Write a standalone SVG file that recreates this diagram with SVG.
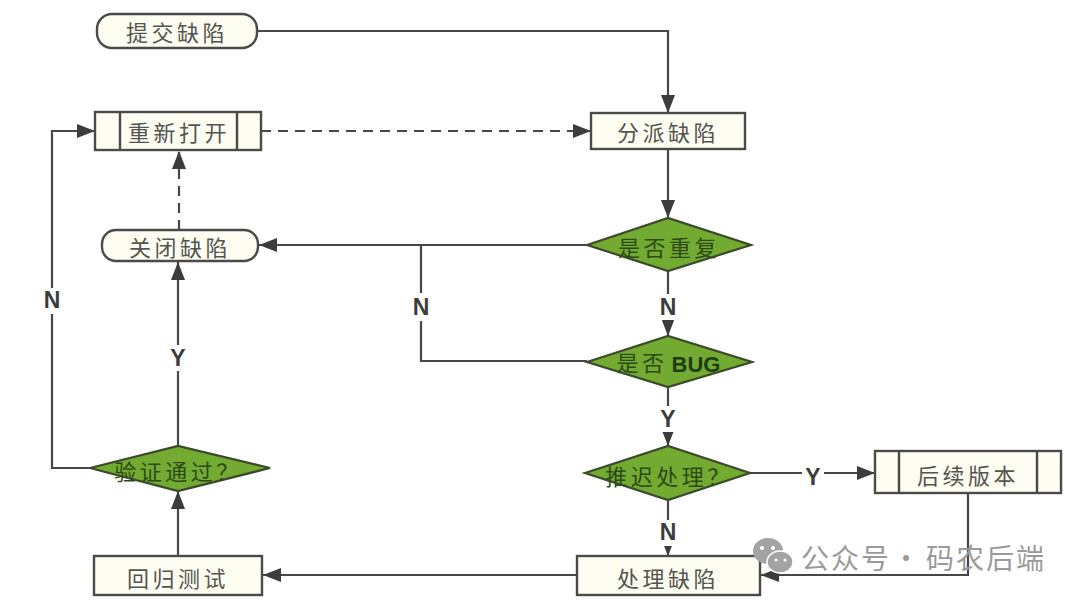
<svg xmlns="http://www.w3.org/2000/svg" width="1080" height="602" viewBox="0 0 1080 602">
<style>
.box{fill:#fdfdf2;stroke:#4a4a48;stroke-width:2.4}
.dia{fill:#72aa32;stroke:#3a4a2a;stroke-width:2.2}
.c{fill:none;stroke:#474747;stroke-width:2.2}
.d{stroke-dasharray:10 7}
.t{font-family:"Noto Sans CJK SC","Liberation Serif",serif;font-size:22px;fill:#555550;text-anchor:middle;letter-spacing:3.5px;font-weight:400}
.td{font-family:"Noto Sans CJK SC","Liberation Serif",serif;font-size:22px;fill:#2d4a16;text-anchor:middle;letter-spacing:3.5px}
.l{font-family:"Liberation Sans",Arial,sans-serif;font-size:23px;font-weight:700;fill:#3c3c3c;text-anchor:middle}
.b{font-family:"Liberation Sans",Arial,sans-serif;font-size:22px;font-weight:700;fill:#1f3d10;text-anchor:middle}
.w{font-family:"Noto Sans CJK SC","Liberation Sans",sans-serif;font-size:28px;fill:#9a9a9a;letter-spacing:2px}
</style>
<defs>
<marker id="a" markerUnits="userSpaceOnUse" markerWidth="20" markerHeight="16" refX="18" refY="8" orient="auto"><path d="M0 1L18 8L0 15Z" fill="#3c3c3c"/></marker>
</defs>
<rect width="1080" height="602" fill="#fff"/>
<g id="connectors">
<path class="c" marker-end="url(#a)" d="M257 31H668V113"/>
<path class="c d" marker-end="url(#a)" d="M261 131H591"/>
<path class="c d" marker-end="url(#a)" d="M179 230V151"/>
<path class="c" marker-end="url(#a)" d="M668 149V218"/>
<path class="c" marker-end="url(#a)" d="M587 245H259"/>
<path class="c" d="M587 361H421V245"/>
<path class="c" marker-end="url(#a)" d="M668 271V336"/>
<path class="c" marker-end="url(#a)" d="M668 387V446"/>
<path class="c" marker-end="url(#a)" d="M750 473H875"/>
<path class="c" marker-end="url(#a)" d="M668 500V556"/>
<path class="c" marker-end="url(#a)" d="M968 493V575H761"/>
<path class="c" marker-end="url(#a)" d="M577 575H263"/>
<path class="c" marker-end="url(#a)" d="M178 556V491"/>
<path class="c" marker-end="url(#a)" d="M178 446V262"/>
<path class="c" marker-end="url(#a)" d="M90 468H52V131H95"/>
</g>
<g id="labels">
<rect x="410" y="293" width="22" height="28" fill="#fff"/><text class="l" x="421" y="315">N</text>
<rect x="657" y="294" width="22" height="26" fill="#fff"/><text class="l" x="668" y="315">N</text>
<rect x="657" y="406" width="22" height="26" fill="#fff"/><text class="l" x="668" y="427">Y</text>
<rect x="802" y="463" width="22" height="26" fill="#fff"/><text class="l" x="813" y="485">Y</text>
<rect x="657" y="520" width="22" height="26" fill="#fff"/><text class="l" x="668" y="540">N</text>
<rect x="167" y="345" width="22" height="26" fill="#fff"/><text class="l" x="178" y="366">Y</text>
<rect x="41" y="288" width="22" height="26" fill="#fff"/><text class="l" x="52" y="308">N</text>
</g>
<g id="n-submit"><rect class="box" x="97" y="14" width="160" height="34" rx="15"/><text class="t" x="177" y="41">提交缺陷</text></g>
<g id="n-reopen"><rect class="box" x="95" y="112" width="166" height="38"/><path class="box" d="M120 112V150M237 112V150"/><text class="t" x="179" y="141">重新打开</text></g>
<g id="n-assign"><rect class="box" x="591" y="113" width="154" height="36"/><text class="t" x="668" y="141">分派缺陷</text></g>
<g id="n-close"><rect class="box" x="102" y="230" width="156" height="31" rx="14"/><text class="t" x="180" y="256">关闭缺陷</text></g>
<g id="n-dup"><path class="dia" d="M587 245L668 218L751 245L668 271Z"/><text class="td" x="669" y="256">是否重复</text></g>
<g id="n-bug"><path class="dia" d="M587 362L668 336L752 362L668 387Z"/><text class="td" x="642" y="371">是否</text><text class="b" x="696" y="372">BUG</text></g>
<g id="n-defer"><path class="dia" d="M585 473L668 446L750 473L668 500Z"/><text class="td" x="669" y="485">推迟处理？</text></g>
<g id="n-later"><rect class="box" x="875" y="451" width="186" height="42"/><path class="box" d="M899 451V493M1037 451V493"/><text class="t" x="968" y="484">后续版本</text></g>
<g id="n-fix"><rect class="box" x="577" y="556" width="183" height="39"/><text class="t" x="668" y="587">处理缺陷</text></g>
<g id="n-regress"><rect class="box" x="94" y="556" width="168" height="39"/><text class="t" x="178" y="587">回归测试</text></g>
<g id="n-verify"><path class="dia" d="M90 468L178 446L270 468L178 491Z"/><text class="td" x="178" y="480">验证通过？</text></g>
<g id="watermark">
<ellipse cx="768" cy="551" rx="15" ry="13" fill="#a3a3a3"/>
<ellipse cx="780" cy="562" rx="13" ry="11" fill="#a3a3a3" stroke="#fff" stroke-width="1.5"/>
<circle cx="762" cy="548" r="2" fill="#fff"/><circle cx="773" cy="548" r="2" fill="#fff"/>
<circle cx="776" cy="560" r="1.6" fill="#fff"/><circle cx="785" cy="560" r="1.6" fill="#fff"/>
<text class="w" x="801" y="569">公众号</text>
<text class="w" x="892" y="569">·</text>
<text class="w" x="926" y="569">码农后端</text>
</g>
</svg>
